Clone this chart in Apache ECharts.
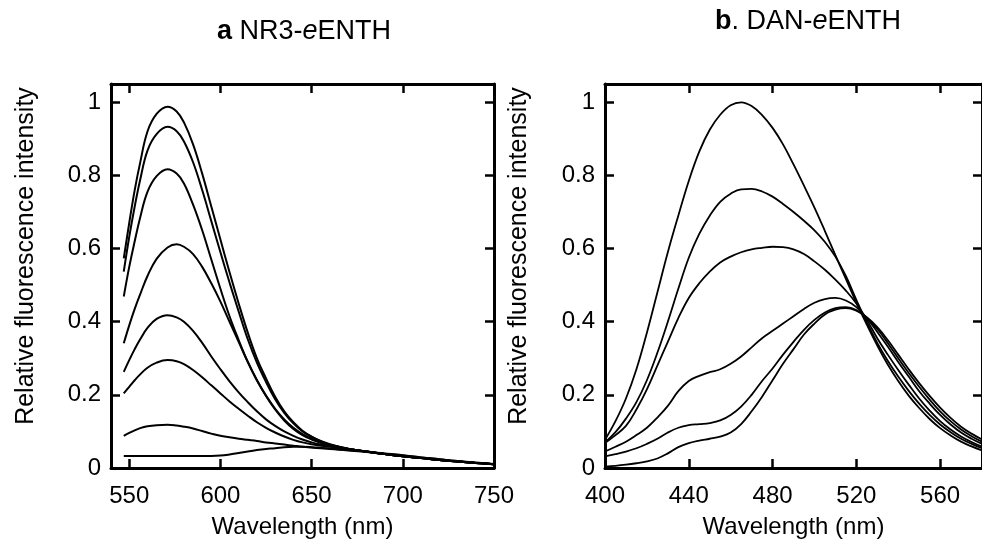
<!DOCTYPE html>
<html>
<head>
<meta charset="utf-8">
<script src="https://cdn.jsdelivr.net/npm/echarts@6/dist/echarts.min.js"></script>
<style>
  html, body { margin: 0; padding: 0; background: #fff; }
  #chart { width: 982px; height: 544px; }
</style>
</head>
<body>
<div id="chart"></div>
<script>
const FONT = "'Liberation Sans', Arial, sans-serif";

// panel a: NR3-eENTH
const nrWave = [547, 550, 553, 556, 560, 565, 571, 576, 580, 585, 590, 595, 600, 605, 610, 615, 620, 625, 630, 635,
  640, 645, 650, 655, 660, 665, 670, 680, 690, 700, 710, 720, 730, 740, 750];
const nr1 = [.573, .67, .76, .835, .92, .968, .988, .975, .945, .885, .805, .715, .625, .535, .45, .37, .30, .245, .195, .155,
  .125, .102, .086, .074, .065, .058, .053, .045, .038, .032, .027, .022, .018, .014, .010];
const nr2 = [.537, .632, .715, .788, .868, .913, .933, .921, .893, .836, .76, .675, .59, .507, .428, .352, .288, .235, .188, .151,
  .122, .1, .085, .073, .064, .058, .053, .045, .038, .032, .027, .022, .018, .014, .010];
const nr3 = [.469, .55, .62, .685, .755, .798, .817, .805, .778, .72, .65, .57, .49, .415, .35, .29, .24, .198, .162, .133,
  .11, .093, .08, .07, .063, .057, .052, .045, .038, .032, .027, .022, .018, .014, .010];
const nr4 = [.341, .39, .435, .475, .525, .572, .603, .612, .605, .585, .55, .505, .455, .40, .345, .29, .24, .197, .16, .13,
  .107, .09, .078, .069, .062, .057, .052, .045, .038, .032, .027, .022, .018, .014, .010];
const nr5 = [.263, .295, .325, .352, .383, .408, .418, .412, .4, .375, .342, .305, .27, .237, .207, .18, .155, .133, .115, .1,
  .088, .078, .07, .064, .06, .056, .052, .045, .038, .032, .027, .022, .018, .014, .010];
const nr6 = [.204, .222, .24, .256, .274, .288, .295, .292, .284, .268, .248, .226, .204, .182, .162, .143, .125, .11, .097, .086,
  .077, .07, .065, .061, .058, .055, .052, .045, .038, .032, .027, .022, .018, .014, .010];
const nr7 = [.088, .096, .103, .109, .114, .117, .118, .116, .113, .108, .101, .094, .088, .084, .08, .077, .074, .07, .067, .064,
  .061, .058, .056, .054, .052, .05, .048, .044, .039, .034, .029, .024, .019, .015, .011];
const nr8 = [.033, .033, .033, .033, .033, .033, .033, .033, .033, .033, .033, .033, .034, .037, .041, .045, .049, .052, .054, .057,
  .058, .058, .057, .055, .053, .051, .049, .045, .04, .035, .029, .024, .019, .014, .010];

// panel b: DAN-eENTH
const danWave = [400, 405, 410, 415, 420, 425, 430, 435, 440, 445, 450, 455, 460, 465, 470, 475, 480, 485, 490, 495,
  500, 505, 510, 515, 520, 525, 530, 535, 540, 545, 550, 555, 560, 565, 570, 575, 580];
const dan1 = [.077, .128, .19, .27, .37, .48, .59, .69, .785, .865, .925, .966, .992, 1.0, .99, .965, .93, .885, .83, .772,
  .712, .648, .582, .517, .452, .392, .335, .283, .238, .198, .164, .134, .109, .089, .072, .059, .048];
const dan2 = [.07, .098, .135, .18, .24, .315, .4, .49, .575, .64, .69, .728, .75, .762, .763, .756, .742, .722, .7, .676,
  .65, .618, .578, .525, .46, .398, .342, .293, .25, .211, .176, .145, .119, .098, .08, .066, .054];
const dan3 = [.068, .09, .115, .16, .215, .28, .345, .41, .465, .505, .537, .562, .578, .59, .598, .602, .605, .604, .598, .585,
  .565, .542, .515, .485, .45, .405, .355, .31, .268, .228, .19, .157, .128, .105, .086, .071, .058];
const dan4 = [.045, .058, .072, .09, .11, .138, .17, .21, .238, .252, .262, .27, .285, .305, .33, .355, .375, .395, .415, .435,
  .452, .462, .465, .458, .44, .41, .372, .332, .29, .25, .21, .176, .145, .119, .097, .08, .066];
const dan5 = [.032, .038, .045, .054, .066, .08, .097, .11, .117, .12, .123, .13, .145, .168, .2, .238, .272, .31, .345, .378,
  .405, .425, .437, .44, .432, .41, .38, .342, .3, .26, .222, .187, .155, .128, .105, .087, .072];
const dan6 = [.004, .006, .009, .013, .018, .026, .04, .057, .068, .075, .08, .086, .097, .12, .155, .195, .24, .285, .325, .365,
  .395, .42, .433, .437, .43, .412, .385, .35, .31, .27, .232, .197, .165, .137, .113, .094, .078];

const nrTicks = [550, 600, 650, 700, 750];
const danTicks = [400, 440, 480, 520, 560];
const yTicks = [0, 0.2, 0.4, 0.6, 0.8, 1];

const axisLine = { onZero: false, lineStyle: { color: "#000", width: 3 } };
const label = { color: "#000", fontSize: 24, fontFamily: FONT };

function xAxis(grid, min, max, ticks, pos) {
  const bottom = pos === "bottom";
  return {
    gridIndex: grid, type: "value", min, max, position: pos,
    axisLine,
    axisTick: { inside: true, length: 9, customValues: ticks, lineStyle: { color: "#000", width: 2.5 } },
    axisLabel: bottom ? { ...label, margin: 16, customValues: ticks } : { show: false },
    splitLine: { show: false },
    name: bottom ? "Wavelength (nm)" : "",
    nameLocation: "middle", nameGap: 47,
    nameTextStyle: label
  };
}

function yAxis(grid, pos, gap) {
  const left = pos === "left";
  return {
    gridIndex: grid, type: "value", min: 0, max: 1.05, position: pos,
    axisLine,
    axisTick: { inside: true, length: 9, customValues: yTicks, lineStyle: { color: "#000", width: 2.5 } },
    axisLabel: left ? { ...label, margin: 10, customValues: yTicks } : { show: false },
    splitLine: { show: false },
    name: left ? "Relative fluorescence intensity" : "",
    nameLocation: "middle", nameGap: gap,
    // shift the rotated name up a little, as in the original
    nameTextStyle: { ...label, fontSize: 25, padding: [0, 0, 0, 40] }
  };
}

function curve(xs, ys, axis, width) {
  return {
    type: "line", xAxisIndex: axis, yAxisIndex: axis,
    data: xs.map((x, i) => [x, ys[i]]),
    smooth: 0.4, showSymbol: false, silent: true,
    lineStyle: { color: "#000", width }
  };
}

const titleStyle = () => ({
  fontSize: 27, fontWeight: "normal", color: "#000", fontFamily: FONT,
  rich: {
    b: { fontSize: 27, fontWeight: "bold", color: "#000", fontFamily: FONT },
    i: { fontSize: 27, fontStyle: "italic", color: "#000", fontFamily: FONT }
  }
});

const chart = echarts.init(document.getElementById("chart"));
chart.setOption({
  animation: false,
  backgroundColor: "#fff",
  title: [
    { text: "{b|a} NR3-{i|e}ENTH", left: 217, top: 18, padding: 0, textStyle: titleStyle() },
    { text: "{b|b}. DAN-{i|e}ENTH", left: 715, top: 8, padding: 0, textStyle: titleStyle() }
  ],
  grid: [
    { left: 111, top: 84, width: 383, height: 384 },
    { left: 605, top: 84, width: 383, height: 384 }
  ],
  xAxis: [
    xAxis(0, 540, 750, nrTicks, "bottom"),
    xAxis(0, 540, 750, nrTicks, "top"),
    xAxis(1, 400, 580, danTicks, "bottom"),
    xAxis(1, 400, 580, danTicks, "top")
  ],
  yAxis: [
    yAxis(0, "left", 72),
    yAxis(0, "right", 0),
    yAxis(1, "left", 73),
    yAxis(1, "right", 0)
  ],
  series: [
    ...[nr1, nr2, nr3, nr4, nr5, nr6, nr7, nr8].map(d => curve(nrWave, d, 0, 2)),
    ...[dan1, dan2, dan3, dan4, dan5, dan6].map(d => curve(danWave, d, 2, 1.8))
  ]
});
</script>
</body>
</html>
